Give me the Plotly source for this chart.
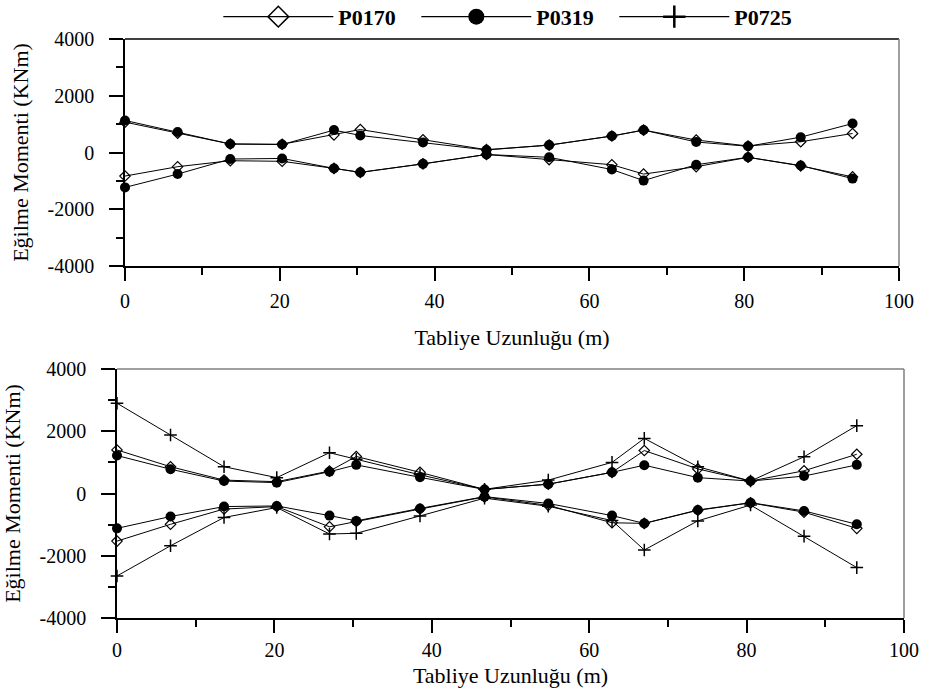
import plotly.graph_objects as go

# ---------------- data ----------------
x_pos = [0, 6.8, 13.6, 20.3, 27.0, 30.4, 38.5, 46.7, 54.8, 62.9, 67.0, 73.8, 80.5, 87.3, 94.0]

# top panel
top_p0170_pos = [1070, 680, 300, 290, 620, 810, 450, 100, 260, 580, 790, 440, 230, 380, 670]
top_p0319_pos = [1130, 720, 300, 280, 790, 600, 350, 90, 260, 580, 790, 370, 220, 540, 1020]
top_p0170_neg = [-830, -500, -290, -310, -560, -700, -400, -70, -250, -430, -760, -500, -170, -470, -860]
top_p0319_neg = [-1230, -760, -230, -210, -560, -700, -400, -70, -170, -600, -990, -430, -170, -460, -920]

# bottom panel
bot_p0170_pos = [1400, 860, 430, 380, 720, 1190, 680, 130, 300, 680, 1380, 790, 400, 730, 1260]
bot_p0319_pos = [1220, 780, 400, 350, 700, 920, 520, 130, 300, 680, 910, 510, 400, 560, 920]
bot_p0725_pos = [2900, 1880, 860, 510, 1310, 1100, 600, 134, 430, 1000, 1770, 860, 400, 1180, 2180]
bot_p0170_neg = [-1530, -990, -500, -420, -1070, -900, -500, -110, -380, -940, -960, -540, -300, -600, -1120]
bot_p0319_neg = [-1120, -740, -420, -400, -710, -880, -480, -100, -320, -710, -960, -530, -295, -560, -990]
bot_p0725_neg = [-2650, -1680, -770, -450, -1300, -1280, -720, -150, -410, -870, -1815, -880, -370, -1370, -2380]

series_names = ["P0170", "P0319", "P0725"]
y_ticks = [-4000, -2000, 0, 2000, 4000]
x_ticks = [0, 20, 40, 60, 80, 100]
x_title = "Tabliye Uzunluğu (m)"
y_title = "Eğilme Momenti (KNm)"

FONT = "Liberation Serif"
W, H = 929, 693

styles = {
    "P0170": dict(symbol="diamond-open", size=8, color="black", line=dict(width=1.2, color="black")),
    "P0319": dict(symbol="circle", size=10, color="black"),
    "P0725": dict(symbol="cross-thin", size=9, color="black", line=dict(width=1.5, color="black")),
}
legend_styles = {
    "P0170": dict(symbol="diamond-open", size=16, color="black", line=dict(width=1.5, color="black")),
    "P0319": dict(symbol="circle", size=16, color="black"),
    "P0725": dict(symbol="cross-thin", size=16, color="black", line=dict(width=2.5, color="black")),
}

fig = go.Figure()

def add(name, x, y, xa, ya):
    fig.add_trace(go.Scatter(
        x=x, y=y, mode="lines+markers", name=name, legendgroup=name,
        showlegend=False, xaxis=xa, yaxis=ya, cliponaxis=False,
        line=dict(color="black", width=1), marker=styles[name]))

add("P0170", x_pos, top_p0170_pos, "x", "y")
add("P0170", x_pos, top_p0170_neg, "x", "y")
add("P0319", x_pos, top_p0319_pos, "x", "y")
add("P0319", x_pos, top_p0319_neg, "x", "y")

add("P0725", x_pos, bot_p0725_pos, "x2", "y2")
add("P0725", x_pos, bot_p0725_neg, "x2", "y2")
add("P0170", x_pos, bot_p0170_pos, "x2", "y2")
add("P0170", x_pos, bot_p0170_neg, "x2", "y2")
add("P0319", x_pos, bot_p0319_pos, "x2", "y2")
add("P0319", x_pos, bot_p0319_neg, "x2", "y2")

for n in series_names:
    fig.add_trace(go.Scatter(
        x=[None], y=[None], mode="lines+markers", name=n, legendgroup=n,
        showlegend=True, xaxis="x2", yaxis="y2",
        line=dict(color="black", width=1.2), marker=legend_styles[n]))

TICK_SIZE = 20
TITLE_SIZE = 22

def xaxis(domain, anchor, label_standoff, title_standoff):
    return dict(
        domain=domain, anchor=anchor, range=[0, 100], automargin=False,
        tickvals=x_ticks, ticktext=[str(v) for v in x_ticks],
        ticks="outside", ticklen=13, tickwidth=1.5, tickcolor="black",
        minor=dict(dtick=10, tick0=0, ticks="outside", ticklen=7, tickwidth=1.5, tickcolor="black", showgrid=False),
        showline=True, linecolor="black", linewidth=1.5,
        showgrid=False, zeroline=False,
        tickfont=dict(family=FONT, size=TICK_SIZE, color="black"),
        ticklabelstandoff=label_standoff,
        title=dict(text=x_title, font=dict(family=FONT, size=TITLE_SIZE, color="black"), standoff=title_standoff),
    )

def yaxis(domain, anchor):
    return dict(
        domain=domain, anchor=anchor, range=[-4000, 4000], automargin=False,
        tickvals=y_ticks, ticktext=[str(v) for v in y_ticks],
        ticks="outside", ticklen=14, tickwidth=1.5, tickcolor="black",
        minor=dict(dtick=1000, tick0=0, ticks="outside", ticklen=7, tickwidth=1.5, tickcolor="black", showgrid=False),
        showline=True, linecolor="black", linewidth=1.5,
        showgrid=False, zeroline=False,
        tickfont=dict(family=FONT, size=TICK_SIZE, color="black"),
        ticklabelstandoff=11,
        title=dict(text=y_title, font=dict(family=FONT, size=TITLE_SIZE, color="black"), standoff=13),
    )

fig.update_layout(
    width=W, height=H,
    margin=dict(l=0, r=0, t=0, b=0, autoexpand=False),
    paper_bgcolor="white", plot_bgcolor="white",
    font=dict(family=FONT, size=18, color="black"),
    xaxis=xaxis([125 / W, 899 / W], "y", 3, 19),
    yaxis=yaxis([1 - 266 / H, 1 - 39 / H], "x"),
    xaxis2=xaxis([117 / W, 904 / W], "y2", 0, 8),
    yaxis2=yaxis([1 - 618 / H, 1 - 369 / H], "x2"),
    legend=dict(orientation="h", x=0.235, xanchor="left", y=1.006, yanchor="top",
                font=dict(family=FONT, size=22, color="black", weight="bold"),
                bgcolor="rgba(0,0,0,0)", itemwidth=110, entrywidth=73, entrywidthmode="pixels",
                tracegroupgap=0),
    showlegend=True,
)

shapes = [
    dict(type="line", xref="x domain", yref="y domain", x0=0, x1=1, y0=1, y1=1, line=dict(color="black", width=1.5)),
    dict(type="line", xref="x domain", yref="y domain", x0=1, x1=1, y0=0, y1=1, line=dict(color="#7f7f7f", width=1.5)),
    dict(type="line", xref="x2 domain", yref="y2 domain", x0=0, x1=1, y0=1, y1=1, line=dict(color="#7f7f7f", width=1.5)),
    dict(type="line", xref="x2 domain", yref="y2 domain", x0=1, x1=1, y0=0, y1=1, line=dict(color="#7f7f7f", width=1.5)),
]
fig.update_layout(shapes=shapes)

fig.write_html("out.html")
